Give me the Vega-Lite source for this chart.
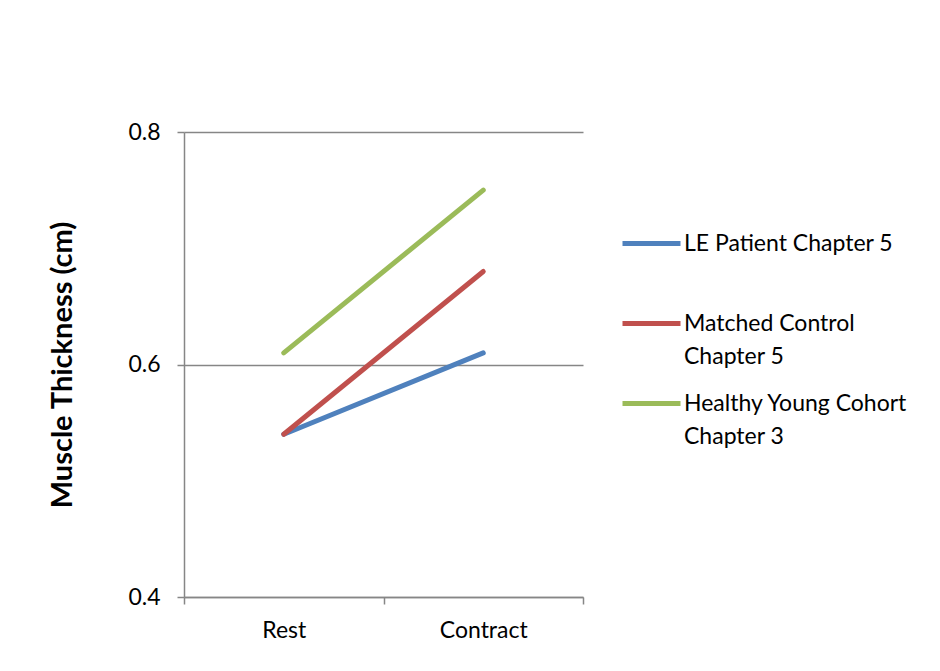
{
  "$schema": "https://vega.github.io/schema/vega-lite/v6.json",
  "width": 399,
  "height": 465,
  "autosize": {"type": "none"},
  "padding": {"left": 184, "top": 132, "right": 357, "bottom": 74},
  "background": "white",
  "config": {
    "font": "Lato",
    "view": {"stroke": null},
    "style": {"guide-label": {"lineHeight": 33}},
    "axis": {"labelFont": "Lato", "titleFont": "Lato", "labelColor": "#000000", "titleColor": "#000000", "domainColor": "#868686", "tickColor": "#868686", "gridColor": "#868686", "labelFontSize": 23, "domainWidth": 1.5, "tickWidth": 1.5, "gridWidth": 1.5, "tickSize": 7}
  },
  "data": {
    "values": [
      {"series": "LE Patient Chapter 5", "condition": "Rest", "thickness": 0.54},
      {"series": "LE Patient Chapter 5", "condition": "Contract", "thickness": 0.61},
      {"series": "Matched Control Chapter 5", "condition": "Rest", "thickness": 0.54},
      {"series": "Matched Control Chapter 5", "condition": "Contract", "thickness": 0.68},
      {"series": "Healthy Young Cohort Chapter 3", "condition": "Rest", "thickness": 0.61},
      {"series": "Healthy Young Cohort Chapter 3", "condition": "Contract", "thickness": 0.75}
    ]
  },
  "mark": {"type": "line", "strokeWidth": 5, "strokeCap": "round"},
  "encoding": {
    "x": {
      "field": "condition", "type": "nominal", "sort": ["Rest", "Contract"],
      "scale": {"type": "band", "paddingInner": 0, "paddingOuter": 0},
      "axis": {"title": null, "labelAngle": 0, "tickBand": "extent", "grid": false, "labelPadding": 15}
    },
    "y": {
      "field": "thickness", "type": "quantitative",
      "scale": {"domain": [0.4, 0.8], "nice": false, "zero": false},
      "axis": {"title": "Muscle Thickness (cm)", "values": [0.4, 0.6, 0.8], "format": ".1f", "grid": true, "titleFontSize": 29, "titleFontWeight": "bold", "titlePadding": 50, "labelPadding": 17}
    },
    "color": {
      "field": "series", "type": "nominal",
      "scale": {"domain": ["LE Patient Chapter 5", "Matched Control Chapter 5", "Healthy Young Cohort Chapter 3"], "range": ["#4F81BD", "#C0504D", "#9BBB59"]},
      "legend": {
        "title": null, "orient": "none", "legendX": 436, "legendY": 80,
        "symbolType": "stroke", "symbolSize": 3364, "symbolStrokeWidth": 5,
        "labelFontSize": 23, "labelColor": "#000000", "labelOffset": 1, "labelLimit": 320,
        "labelExpr": "datum.label == 'LE Patient Chapter 5' ? ['LE Patient Chapter 5', ''] : datum.label == 'Matched Control Chapter 5' ? ['Matched Control', 'Chapter 5'] : ['Healthy Young Cohort', 'Chapter 3']",
        "rowPadding": 3
      }
    }
  }
}
